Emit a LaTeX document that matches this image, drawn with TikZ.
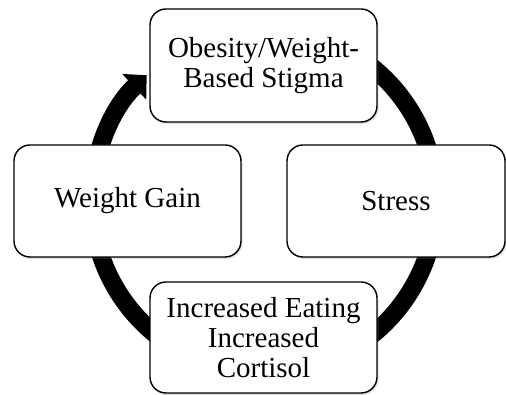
\documentclass[tikz,border=0pt]{standalone}
\usepackage{fontspec}
\setmainfont{Liberation Serif}
\usetikzlibrary{arrows.meta,shadows}

\begin{document}
\begin{tikzpicture}[
  x=1pt, y=1pt,
  font=\fontsize{29}{30}\selectfont,
  box/.style={draw, line width=1.4pt, rounded corners=16pt, fill=white, align=center,
              inner sep=0pt, minimum height=112pt,
              drop shadow={shadow xshift=1.5pt, shadow yshift=-2pt, opacity=0.25}},
  stage/.style={box, minimum width=227pt},
  cyclearrow/.style={-{Triangle[width=34pt, length=17pt]}, line width=18pt},
]
\useasboundingbox (0,0) rectangle (506,395);

% ===== the loop behind the boxes =====
\coordinate (hub) at (264,194);
\draw[cyclearrow] ([shift={(60:172)}]hub) arc[start angle=60, end angle=-227, radius=172];

% ===== four stages =====
\node[stage, minimum height=113pt] (stigma) at (263.5,329.5) {Obesity/Weight-\\Based Stigma};
\node[box, minimum width=218pt] (stress) at (396,194) {Stress};
\node[stage, minimum height=111pt] (eating) at (263.5,57.5) {Increased Eating\\Increased\\Cortisol};
\node[stage] (gain) at (127.5,194) {Weight Gain};

\end{tikzpicture}
\end{document}
